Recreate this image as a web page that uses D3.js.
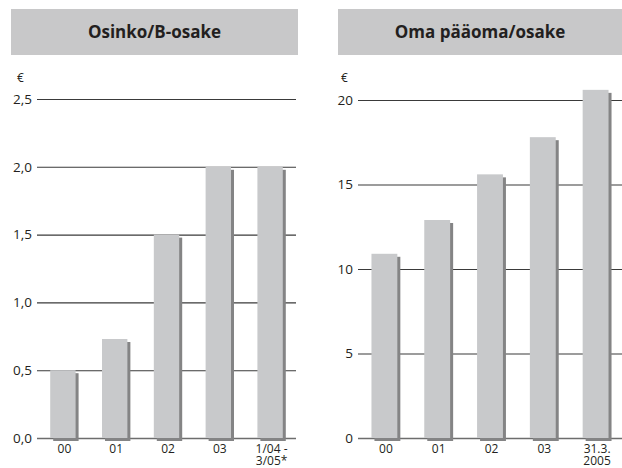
<!DOCTYPE html>
<html>
<head>
<meta charset="utf-8">
<script src="https://cdn.jsdelivr.net/npm/d3@7"></script>
<style>
  html, body { margin: 0; padding: 0; background: #fff; }
  svg { display: block; }
  text { font-family: "Open Sans", "DejaVu Sans", sans-serif; fill: #231f20; }
</style>
</head>
<body>
<svg id="chart" width="622" height="468"></svg>
<script>
// Dividend per B share (€)
const dividendCategories = ["00", "01", "02", "03", "1/04 -\n3/05*"];
const dividendValues = [0.5, 0.73, 1.5, 2.0, 2.0];
const dividendTicks = [0, 0.5, 1.0, 1.5, 2.0, 2.5];

// Equity per share (€)
const equityCategories = ["00", "01", "02", "03", "31.3.\n2005"];
const equityValues = [10.9, 12.9, 15.6, 17.8, 20.6];
const equityTicks = [0, 5, 10, 15, 20];

const svg = d3.select("#chart");

function panel(opts) {
  const g = svg.append("g");

  // title banner
  g.append("rect")
    .attr("x", opts.box[0]).attr("y", 9)
    .attr("width", opts.box[1] - opts.box[0]).attr("height", 46)
    .attr("fill", "#c8c8c9");
  g.append("text")
    .attr("x", (opts.box[0] + opts.box[1]) / 2).attr("y", 38)
    .attr("text-anchor", "middle")
    .attr("font-size", 17).attr("font-weight", 700)
    .text(opts.title);

  const x = d3.scaleBand()
    .domain(opts.categories)
    .range(opts.xRange)
    .paddingInner(0.51)
    .paddingOuter(0.255);
  const y = d3.scaleLinear().domain(opts.domain).range([438, opts.top]);

  // gridlines with tick labels
  const yAxis = d3.axisLeft(y)
    .tickValues(opts.ticks)
    .tickSize(-(opts.xRange[1] - opts.xRange[0]))
    .tickPadding(5)
    .tickFormat(opts.format);
  const ya = g.append("g")
    .attr("transform", `translate(${opts.xRange[0]},0)`)
    .call(yAxis);
  ya.select(".domain").remove();
  ya.selectAll(".tick line")
    .attr("stroke-width", d => d === 0 ? 1.6 : 1.1)
    .attr("stroke", d => d === 0 ? "#6d6d6d" : "#3a3a3a");
  ya.selectAll(".tick text")
    .attr("font-size", 13.5)
    .attr("fill", "#231f20")
    .attr("font-family", "\"Open Sans\", sans-serif");

  // unit label
  g.append("text")
    .attr("x", opts.euroX).attr("y", 82)
    .attr("font-size", 12)
    .text("€");

  // bar shadows
  g.selectAll("rect.shadow")
    .data(opts.values)
    .join("rect")
    .attr("class", "shadow")
    .attr("x", (d, i) => x(opts.categories[i]) + 3)
    .attr("y", d => y(d) + 3)
    .attr("width", x.bandwidth())
    .attr("height", d => y(0) - y(d))
    .attr("fill", "#848485");

  // bars
  g.selectAll("rect.bar")
    .data(opts.values)
    .join("rect")
    .attr("class", "bar")
    .attr("x", (d, i) => x(opts.categories[i]))
    .attr("y", d => y(d))
    .attr("width", x.bandwidth())
    .attr("height", d => y(0) - y(d))
    .attr("fill", "#c8c9cb");

  // category labels (two-line labels share a tight leading)
  const labels = g.selectAll("text.cat")
    .data(opts.categories)
    .join("text")
    .attr("class", "cat")
    .attr("text-anchor", "middle")
    .attr("font-size", 12)
    .attr("x", d => x(d) + x.bandwidth() / 2 + 1.5)
    .attr("y", 453);
  labels.each(function (d) {
    const parts = d.split("\n");
    d3.select(this).selectAll("tspan")
      .data(parts)
      .join("tspan")
      .attr("x", d3.select(this).attr("x"))
      .attr("dy", (p, i) => i === 0 ? 0 : 12)
      .text(p => p);
  });
}

panel({
  title: "Osinko/B-osake",
  box: [11, 298],
  categories: dividendCategories,
  values: dividendValues,
  ticks: dividendTicks,
  domain: [0, 2.5],
  top: 99,
  xRange: [37, 296],
  euroX: 17,
  format: d => d3.format(".1f")(d).replace(".", ",")
});

panel({
  title: "Oma pääoma/osake",
  box: [338, 622],
  categories: equityCategories,
  values: equityValues,
  ticks: equityTicks,
  domain: [0, 20],
  top: 100,
  xRange: [358, 622],
  euroX: 341,
  format: d3.format("d")
});
</script>
</body>
</html>
